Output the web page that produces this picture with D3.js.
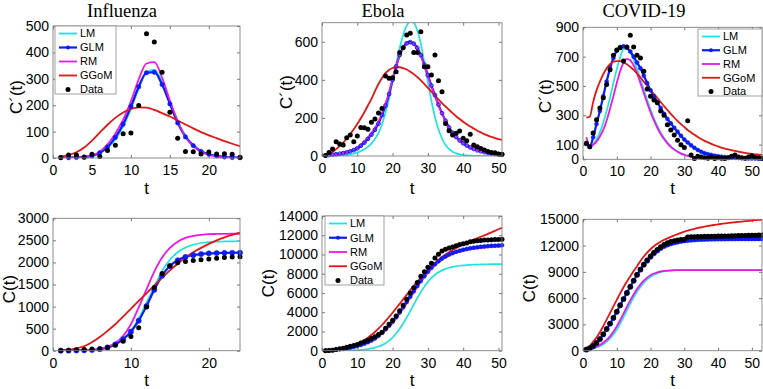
<!DOCTYPE html>
<html>
<head>
<meta charset="utf-8"/>
<script src="https://d3js.org/d3.v7.min.js"></script>
<style>
  body { margin: 0; background: #fff; }
  text { font-family: "Liberation Sans", Arial, sans-serif; }
</style>
</head>
<body>
<script>
// ---- influenza (t = 1..24) ----
const fluDays = d3.range(1, 25);
const fluData = [2, 11, 11, 3, 14, 6, 28, 48, 92, 95, 199, 471, 439, 325, 173, 75, 25, 24, 15, 23, 15, 16, 14, 3];
const fluLM = [0, 1, 2, 4, 8, 18, 38, 70, 120, 185, 262, 325, 335, 290, 215, 142, 86, 50, 28, 15, 8, 4, 2, 1];
const fluGLM = [1, 1, 2, 4, 8, 20, 42, 78, 128, 195, 270, 323, 325, 278, 205, 133, 80, 47, 25, 14, 8, 4, 2, 1];
const fluRM = [0, 1, 2, 5, 10, 24, 52, 92, 145, 215, 298, 358, 363, 305, 218, 140, 80, 45, 24, 12, 6, 3, 2, 1];
const fluGGoM = [5, 11, 22, 40, 66, 96, 126, 152, 172, 186, 192, 191, 182, 170, 157, 142, 127, 112, 98, 86, 75, 64, 54, 45];
const fluDataCum = [2, 13, 24, 27, 41, 47, 75, 123, 215, 320, 520, 990, 1430, 1750, 1920, 1995, 2020, 2045, 2060, 2080, 2095, 2110, 2125, 2130];
const fluLMCum = [0, 1, 3, 7, 15, 33, 70, 140, 260, 450, 730, 1090, 1450, 1800, 2060, 2230, 2340, 2400, 2440, 2460, 2470, 2475, 2478, 2480];
const fluGLMCum = [1, 2, 4, 8, 16, 35, 75, 145, 260, 430, 680, 1010, 1380, 1700, 1920, 2050, 2125, 2165, 2190, 2205, 2212, 2216, 2219, 2220];
const fluRMCum = [0, 1, 3, 8, 18, 40, 85, 175, 330, 600, 980, 1390, 1790, 2110, 2330, 2470, 2555, 2600, 2625, 2640, 2645, 2648, 2650, 2650];
const fluGGoMCum = [5, 20, 50, 100, 190, 310, 450, 600, 770, 950, 1130, 1300, 1480, 1650, 1820, 1970, 2110, 2230, 2330, 2420, 2500, 2570, 2625, 2675];

// ---- ebola (t = 1..51) ----
const ebDays = d3.range(1, 52);
const ebData = [3, 19, 37, 75, 63, 58, 96, 110, 75, 105, 150, 148, 140, 177, 194, 226, 250, 420, 408, 411,
  443, 544, 568, 635, 644, 544, 544, 652, 469, 469, 425, 530, 395, 338, 171, 133, 110, 119, 131, 93,
  80, 114, 58, 49, 40, 31, 23, 19, 17, 10, 9];
const ebLM = [0, 0, 0, 1, 1, 2, 4, 8, 12, 18, 26, 35, 48, 65, 90, 120, 165, 230, 300, 390,
  480, 565, 635, 685, 705, 700, 660, 590, 490, 390, 290, 205, 140, 92, 58, 37, 22, 14, 9, 5,
  3, 2, 1, 1, 0, 0, 0, 0, 0, 0, 0];
const ebGLM = [3, 5, 7, 9, 12, 15, 19, 24, 31, 40, 54, 70, 90, 112, 138, 170, 215, 265, 325, 400,
  470, 530, 570, 592, 598, 590, 568, 530, 480, 425, 370, 320, 270, 225, 185, 150, 122, 100, 82, 67,
  55, 45, 37, 30, 25, 20, 17, 14, 12, 10, 8];
const ebRM = [2, 4, 6, 9, 12, 16, 21, 27, 35, 45, 60, 77, 97, 120, 147, 180, 225, 275, 335, 405,
  470, 528, 566, 588, 594, 586, 563, 525, 475, 420, 365, 315, 266, 222, 183, 149, 121, 99, 81, 66,
  54, 44, 36, 30, 25, 20, 17, 14, 12, 10, 8];
const ebGGoM = [5, 12, 22, 36, 52, 70, 92, 115, 140, 168, 198, 230, 265, 300, 340, 378, 410, 435, 452, 462,
  466, 466, 462, 454, 443, 430, 414, 397, 378, 358, 338, 318, 298, 278, 260, 242, 225, 209, 194, 180,
  167, 155, 144, 133, 124, 115, 107, 100, 94, 89, 85];
const ebDataCum = [3, 22, 59, 134, 197, 255, 351, 461, 536, 641, 791, 939, 1079, 1256, 1450, 1676, 1926, 2346, 2754, 3165,
  3608, 4152, 4720, 5355, 5999, 6543, 7087, 7739, 8208, 8677, 9102, 9632, 10027, 10365, 10536, 10669, 10779, 10898, 11029, 11122,
  11202, 11316, 11374, 11423, 11463, 11494, 11517, 11536, 11553, 11563, 11572];
const ebLMCum = [0, 2, 5, 8, 12, 18, 25, 35, 48, 65, 90, 125, 170, 235, 320, 430, 580, 780, 1040, 1370,
  1780, 2270, 2830, 3450, 4110, 4790, 5460, 6090, 6660, 7150, 7560, 7890, 8150, 8350, 8500, 8620, 8710, 8780, 8830, 8870,
  8900, 8920, 8940, 8955, 8965, 8975, 8985, 8990, 8995, 9000, 9000];
const ebGLMCum = [20, 45, 75, 110, 150, 195, 245, 305, 385, 485, 600, 730, 880, 1060, 1280, 1550, 1870, 2220, 2600, 3015,
  3480, 3980, 4510, 5060, 5613, 6170, 6720, 7250, 7750, 8210, 8620, 8980, 9300, 9570, 9800, 9990, 10150, 10290, 10400, 10500,
  10580, 10650, 10710, 10760, 10800, 10840, 10870, 10900, 10920, 10940, 10960];
const ebRMCum = [15, 35, 60, 90, 125, 165, 215, 275, 350, 445, 555, 680, 825, 1000, 1210, 1470, 1780, 2120, 2490, 2900,
  3360, 3860, 4390, 4940, 5500, 6060, 6610, 7140, 7640, 8100, 8510, 8870, 9180, 9450, 9680, 9870, 10030, 10170, 10280, 10380,
  10460, 10530, 10590, 10640, 10680, 10720, 10750, 10780, 10800, 10820, 10840];
const ebGGoMCum = [10, 30, 60, 100, 150, 210, 290, 390, 520, 690, 880, 1100, 1350, 1630, 1940, 2290, 2670, 3080, 3510, 3950,
  4410, 4870, 5330, 5800, 6300, 6750, 7180, 7600, 8000, 8400, 8780, 9120, 9440, 9730, 10000, 10240, 10460, 10670, 10870, 11050,
  11220, 11380, 11540, 11690, 11840, 11990, 12140, 12300, 12460, 12620, 12780];

// ---- covid-19 (t = 1..53) ----
const cvDays = d3.range(1, 54);
const cvData = [110, 85, 180, 270, 350, 420, 510, 610, 710, 745, 760, 670, 765, 845, 765, 710, 690, 600, 480, 430,
  405, 385, 330, 300, 235, 200, 165, 130, 100, 80, 262, 30, 5, 20, 15, 10, 8, 15, 5, 10,
  8, 5, 10, 20, 30, 15, 10, 8, 15, 25, 12, 10, 8];
const cvLM = [110, 75, 100, 135, 185, 250, 330, 420, 520, 615, 695, 750, 755, 730, 680, 615, 545, 475, 405, 340,
  280, 228, 183, 145, 114, 89, 69, 53, 41, 31, 24, 18, 13, 10, 7, 5, 4, 3, 2, 2,
  1, 1, 1, 1, 1, 0, 0, 0, 0, 0, 0, 0, 0];
const cvGLM = [105, 85, 150, 240, 330, 430, 530, 620, 690, 740, 765, 770, 760, 735, 700, 660, 620, 570, 520, 470,
  430, 390, 350, 310, 275, 245, 215, 188, 160, 135, 115, 95, 78, 63, 52, 42, 35, 30, 25, 21,
  18, 15, 13, 11, 10, 9, 8, 7, 6, 5, 5, 4, 4];
const cvRM = [150, 90, 100, 120, 155, 200, 265, 345, 430, 520, 600, 660, 685, 675, 640, 585, 520, 452, 385, 322,
  265, 215, 173, 138, 109, 85, 66, 51, 39, 30, 23, 17, 13, 10, 7, 5, 4, 3, 2, 2,
  1, 1, 1, 1, 1, 1, 0, 0, 0, 0, 0, 0, 0];
const cvGGoM = [285, 290, 390, 470, 530, 580, 620, 648, 665, 670, 669, 660, 648, 630, 610, 585, 558, 530, 500, 472,
  445, 418, 390, 362, 336, 310, 285, 262, 240, 220, 200, 183, 167, 152, 138, 126, 115, 105, 96, 88,
  80, 73, 67, 62, 57, 52, 48, 44, 40, 37, 34, 32, 30];
const cvDataCum = [150, 300, 550, 900, 1350, 1900, 2500, 3100, 3750, 4450, 5200, 5900, 6600, 7300, 8000, 8700, 9300, 9850, 10350, 10800,
  11200, 11550, 11850, 12100, 12300, 12450, 12550, 12620, 12680, 12720, 12980, 13000, 13005, 13020, 13030, 13040, 13045, 13055, 13060, 13070,
  13075, 13080, 13090, 13105, 13125, 13135, 13145, 13150, 13160, 13175, 13182, 13188, 13195];
const cvLMCum = [90, 150, 240, 360, 520, 740, 1030, 1400, 1850, 2420, 3080, 3820, 4600, 5370, 6080, 6720, 7280, 7750, 8130, 8430,
  8660, 8830, 8950, 9040, 9100, 9140, 9170, 9185, 9195, 9200, 9200, 9200, 9200, 9200, 9200, 9200, 9200, 9200, 9200, 9200,
  9200, 9200, 9200, 9200, 9200, 9200, 9200, 9200, 9200, 9200, 9200, 9200, 9200];
const cvGLMCum = [120, 260, 500, 850, 1300, 1850, 2450, 3080, 3740, 4440, 5180, 5900, 6600, 7300, 7980, 8640, 9250, 9800, 10280, 10720,
  11100, 11430, 11710, 11950, 12110, 12250, 12360, 12450, 12520, 12580, 12630, 12670, 12700, 12725, 12745, 12760, 12772, 12782, 12790, 12796,
  12800, 12803, 12806, 12808, 12810, 12812, 12813, 12814, 12815, 12816, 12817, 12818, 12819];
const cvRMCum = [130, 220, 330, 470, 660, 910, 1230, 1640, 2150, 2780, 3480, 4230, 5000, 5740, 6420, 7030, 7550, 7990, 8340, 8610,
  8810, 8950, 9050, 9110, 9150, 9175, 9190, 9200, 9200, 9200, 9200, 9200, 9200, 9200, 9200, 9200, 9200, 9200, 9200, 9200,
  9200, 9200, 9200, 9200, 9200, 9200, 9200, 9200, 9200, 9200, 9200, 9200, 9200];
const cvGGoMCum = [250, 550, 1000, 1500, 2100, 2800, 3550, 4300, 5050, 5800, 6550, 7250, 7900, 8500, 9100, 9650, 10250, 10750, 11200, 11580,
  11920, 12200, 12440, 12650, 12830, 12990, 13150, 13310, 13460, 13590, 13710, 13820, 13920, 14010, 14090, 14170, 14240, 14310, 14370, 14430,
  14480, 14530, 14580, 14620, 14660, 14700, 14740, 14780, 14820, 14860, 14900, 14940, 14970];

// ---- tick labels ----
const fluTopX = [0, 5, 10, 15, 20];
const fluBotX = [0, 10, 20];
const longX = [0, 10, 20, 30, 40, 50];
const fluTopY = [0, 100, 200, 300, 400, 500];
const fluBotY = [0, 500, 1000, 1500, 2000, 2500, 3000];
const ebTopY = [0, 200, 400, 600];
const ebBotY = [0, 2000, 4000, 6000, 8000, 10000, 12000, 14000];
const cvTopY = [0, 100, 300, 500, 700, 900];
const cvBotY = [0, 3000, 6000, 9000, 12000, 15000];

const legendNames = ["LM", "GLM", "RM", "GGoM", "Data"];
const colors = {LM: "#1fe3e3", GLM: "#0b1df2", RM: "#ea17ea", GGoM: "#e31515", Data: "#000"};

const W = 763, H = 389;
const svg = d3.select("body").append("svg").attr("width", W).attr("height", H);

// posiciones de cada panel (px)
const panels = [
  {id: "p1", title: "Influenza", ylab: "C\u00b4(t)", t: fluDays, lm: fluLM, glm: fluGLM, rm: fluRM, ggom: fluGGoM, data: fluData,
   box: [53, 240, 26, 158], xd: [0, 24], yd: [0, 500], xt: fluTopX, yt: fluTopY, ylx: 16, yly: 97, tY: 194, titleX: 122,
   legend: {x: 55, y: 26, w: 61, h: 68}, glmMark: "dot", markR: 2.2, dotR: 2.5},
  {id: "p2", title: "Ebola", ylab: "C\u00b4(t)", t: ebDays, lm: ebLM, glm: ebGLM, rm: ebRM, ggom: ebGGoM, data: ebData,
   box: [322, 502, 22.7, 156], xd: [0, 51], yd: [0, 700], xt: longX, yt: ebTopY, ylx: 286, yly: 92, tY: 194, titleX: 383,
   legend: null, glmMark: "ring", markR: 1.9, dotR: 2.5},
  {id: "p3", title: "COVID-19", ylab: "C\u00b4(t)", t: cvDays, lm: cvLM, glm: cvGLM, rm: cvRM, ggom: cvGGoM, data: cvData,
   box: [583, 762, 27.3, 159.3], xd: [0, 53], yd: [0, 900], xt: longX, yt: cvTopY, ylx: 545, yly: 96, tY: 194, titleX: 644,
   legend: {x: 698, y: 29, w: 64, h: 67}, glmMark: "dot", markR: 2, dotR: 2.5},
  {id: "p4", title: null, ylab: "C(t)", t: fluDays, lm: fluLMCum, glm: fluGLMCum, rm: fluRMCum, ggom: fluGGoMCum, data: fluDataCum,
   box: [53, 240, 218.3, 350.7], xd: [0, 24], yd: [0, 3000], xt: fluBotX, yt: fluBotY, ylx: 9, yly: 289, tY: 386,
   legend: null, glmMark: "dot", markR: 2.6, dotR: 2.5},
  {id: "p5", title: null, ylab: "C(t)", t: ebDays, lm: ebLMCum, glm: ebGLMCum, rm: ebRMCum, ggom: ebGGoMCum, data: ebDataCum,
   box: [322, 502, 216, 350.7], xd: [0, 51], yd: [0, 14000], xt: longX, yt: ebBotY, ylx: 268, yly: 283, tY: 386,
   legend: {x: 325, y: 216, w: 59, h: 69}, glmMark: "dot", markR: 2, dotR: 2.5},
  {id: "p6", title: null, ylab: "C(t)", t: cvDays, lm: cvLMCum, glm: cvGLMCum, rm: cvRMCum, ggom: cvGGoMCum, data: cvDataCum,
   box: [583, 762, 219.3, 350.7], xd: [0, 53], yd: [0, 15000], xt: longX, yt: cvBotY, ylx: 529, yly: 288, tY: 386,
   legend: null, glmMark: "dot", markR: 2.6, dotR: 2.6}
];

panels.forEach(drawPanel);

function drawPanel(p) {
  const [left, right, top, bottom] = p.box;
  const x = d3.scaleLinear().domain(p.xd).range([left, right]);
  const y = d3.scaleLinear().domain(p.yd).range([bottom, top]);
  const g = svg.append("g");

  g.append("clipPath").attr("id", "clip-" + p.id)
    .append("rect").attr("x", left).attr("y", top).attr("width", right - left).attr("height", bottom - top);

  // ejes con ticks hacia adentro
  const styleAxis = sel => {
    sel.select(".domain").remove();
    sel.selectAll("line").attr("stroke", "#777");
    sel.selectAll("text").attr("fill", "#000").style("font-size", "14px")
      .style("font-family", "'Liberation Sans', Arial, sans-serif");
  };
  g.append("g").attr("transform", `translate(0,${bottom})`)
    .call(d3.axisBottom(x).tickValues(p.xt).tickSize(-3).tickPadding(7).tickFormat(d3.format("d")))
    .call(styleAxis);
  g.append("g").attr("transform", `translate(0,${top})`)
    .call(d3.axisTop(x).tickValues(p.xt).tickSize(-3).tickFormat(""))
    .call(styleAxis);
  g.append("g").attr("transform", `translate(${left},0)`)
    .call(d3.axisLeft(y).tickValues(p.yt).tickSize(-3).tickPadding(4).tickFormat(d3.format("d")))
    .call(styleAxis);
  g.append("g").attr("transform", `translate(${right},0)`)
    .call(d3.axisRight(y).tickValues(p.yt).tickSize(-3).tickFormat(""))
    .call(styleAxis);

  const plot = g.append("g");
  const clipped = plot.append("g").attr("clip-path", `url(#clip-${p.id})`);

  const line = d3.line()
    .x((d, i) => x(p.t[i]))
    .y(d => y(d))
    .curve(d3.curveMonotoneX);

  // LM
  clipped.append("path").datum(p.lm).attr("d", line)
    .attr("fill", "none").attr("stroke", colors.LM).attr("stroke-width", 1.7);
  // GLM + marcadores
  clipped.append("path").datum(p.glm).attr("d", line)
    .attr("fill", "none").attr("stroke", colors.GLM).attr("stroke-width", 2.2);
  plot.append("g").selectAll("circle").data(p.glm).join("circle")
    .attr("cx", (d, i) => x(p.t[i])).attr("cy", d => y(d)).attr("r", p.markR)
    .attr("fill", p.glmMark === "ring" ? "none" : colors.GLM)
    .attr("stroke", colors.GLM).attr("stroke-width", p.glmMark === "ring" ? 1 : 0.5);
  // RM
  clipped.append("path").datum(p.rm).attr("d", line)
    .attr("fill", "none").attr("stroke", colors.RM).attr("stroke-width", 1.8);
  // GGoM
  clipped.append("path").datum(p.ggom).attr("d", line)
    .attr("fill", "none").attr("stroke", colors.GGoM).attr("stroke-width", 1.8);
  // datos
  plot.append("g").selectAll("circle").data(p.data).join("circle")
    .attr("cx", (d, i) => x(p.t[i])).attr("cy", d => y(d)).attr("r", p.dotR)
    .attr("fill", "#000");

  // marco
  g.append("rect").attr("x", left).attr("y", top).attr("width", right - left).attr("height", bottom - top)
    .attr("fill", "none").attr("stroke", "#808080").attr("stroke-width", 0.9);

  // títulos y etiquetas
  if (p.title) {
    g.append("text").attr("x", p.titleX).attr("y", 17).attr("text-anchor", "middle")
      .style("font-family", "'Liberation Serif', 'Times New Roman', serif").style("font-size", "18.5px")
      .text(p.title);
  }
  g.append("text").attr("x", (left + right) / 2).attr("y", p.tY).attr("text-anchor", "middle")
    .style("font-size", "17px").text("t");
  g.append("text").attr("transform", `translate(${p.ylx},${p.yly}) rotate(-90)`)
    .attr("text-anchor", "middle").attr("dy", "0.35em").style("font-size", "17px").text(p.ylab);

  if (p.legend) drawLegend(g, p);
}

function drawLegend(g, p) {
  const L = p.legend;
  const lg = g.append("g");
  lg.append("rect").attr("x", L.x).attr("y", L.y).attr("width", L.w).attr("height", L.h)
    .attr("fill", "#fff").attr("stroke", "#8a8a8a").attr("stroke-width", 0.8);
  const step = (L.h - 12) / 4;
  legendNames.forEach((name, i) => {
    const cy = L.y + 7.5 + i * step;
    const x0 = L.x + 4, x1 = L.x + 22;
    if (name !== "Data") {
      lg.append("line").attr("x1", x0).attr("x2", x1).attr("y1", cy).attr("y2", cy)
        .attr("stroke", colors[name]).attr("stroke-width", name === "GLM" ? 2.2 : 1.8);
    }
    if (name === "GLM") {
      lg.append("circle").attr("cx", (x0 + x1) / 2).attr("cy", cy).attr("r", 2)
        .attr("fill", colors.GLM);
    }
    if (name === "Data") {
      lg.append("circle").attr("cx", (x0 + x1) / 2).attr("cy", cy).attr("r", 2.5).attr("fill", "#000");
    }
    lg.append("text").attr("x", L.x + 25).attr("y", cy).attr("dy", "0.36em")
      .style("font-size", "11px").attr("fill", "#000").text(name);
  });
}
</script>
</body>
</html>
